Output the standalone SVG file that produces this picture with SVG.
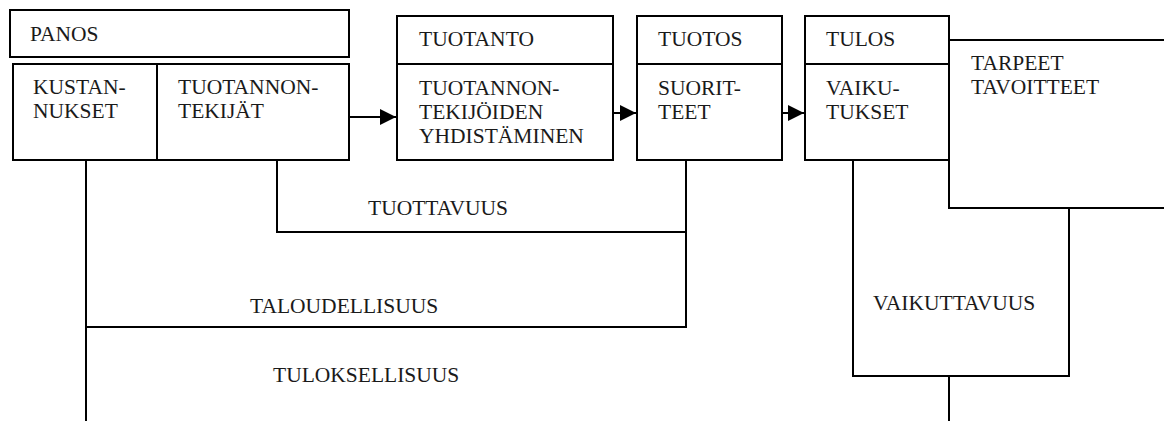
<svg xmlns="http://www.w3.org/2000/svg" width="1164" height="421" viewBox="0 0 1164 421">
<style>
.box{fill:#fff;stroke:#000;stroke-width:2}
.ln{fill:none;stroke:#000;stroke-width:2}
</style>
<defs>
<marker id="ah" markerUnits="userSpaceOnUse" markerWidth="17" markerHeight="16" refX="16" refY="8" orient="auto">
<path d="M0,0 L16,8 L0,16 Z" fill="#000"/>
</marker>
</defs>
<rect width="1164" height="421" fill="#fff"/>
<g id="connectors">
<path class="ln" d="M349,117 H396" marker-end="url(#ah)"/>
<path class="ln" d="M613,113 H636" marker-end="url(#ah)"/>
<path class="ln" d="M782,113 H804" marker-end="url(#ah)"/>
<path class="ln" d="M86,160 V421"/>
<path class="ln" d="M277,160 V232 H686"/>
<path class="ln" d="M686,160 V327 H86"/>
<path class="ln" d="M853,160 V376 H1069 V208"/>
<path class="ln" d="M949,376 V421"/>
</g>
<g id="panos">
<rect class="box" x="10" y="10" width="339" height="47"/>
<text x="30" y="41" font-family="Liberation Serif" font-size="21.5" fill="#1a1a1a">PANOS</text>
</g>
<g id="panos-detail">
<rect class="box" x="13" y="64" width="336" height="96"/>
<line class="ln" x1="157" y1="64" x2="157" y2="160"/>
<text x="33" y="94" font-family="Liberation Serif" font-size="21.5" fill="#1a1a1a">KUSTAN-</text>
<text x="33" y="118" font-family="Liberation Serif" font-size="21.5" fill="#1a1a1a">NUKSET</text>
<text x="178" y="94" font-family="Liberation Serif" font-size="21.5" fill="#1a1a1a">TUOTANNON-</text>
<text x="178" y="118" font-family="Liberation Serif" font-size="21.5" fill="#1a1a1a">TEKIJÄT</text>
</g>
<g id="tuotanto">
<rect class="box" x="397" y="16" width="216" height="144"/>
<line class="ln" x1="397" y1="64" x2="613" y2="64"/>
<text x="419" y="46" font-family="Liberation Serif" font-size="21.5" fill="#1a1a1a">TUOTANTO</text>
<text x="419" y="95" font-family="Liberation Serif" font-size="21.5" fill="#1a1a1a">TUOTANNON-</text>
<text x="419" y="119" font-family="Liberation Serif" font-size="21.5" fill="#1a1a1a">TEKIJÖIDEN</text>
<text x="419" y="143" font-family="Liberation Serif" font-size="21.5" fill="#1a1a1a">YHDISTÄMINEN</text>
</g>
<g id="tuotos">
<rect class="box" x="637" y="16" width="145" height="144"/>
<line class="ln" x1="637" y1="64" x2="782" y2="64"/>
<text x="658" y="46" font-family="Liberation Serif" font-size="21.5" fill="#1a1a1a">TUOTOS</text>
<text x="658" y="95" font-family="Liberation Serif" font-size="21.5" fill="#1a1a1a">SUORIT-</text>
<text x="658" y="119" font-family="Liberation Serif" font-size="21.5" fill="#1a1a1a">TEET</text>
</g>
<g id="tulos">
<rect class="box" x="805" y="16" width="144" height="144"/>
<line class="ln" x1="805" y1="64" x2="949" y2="64"/>
<text x="826" y="46" font-family="Liberation Serif" font-size="21.5" fill="#1a1a1a">TULOS</text>
<text x="826" y="95" font-family="Liberation Serif" font-size="21.5" fill="#1a1a1a">VAIKU-</text>
<text x="826" y="119" font-family="Liberation Serif" font-size="21.5" fill="#1a1a1a">TUKSET</text>
</g>
<g id="tarpeet">
<path class="ln" d="M1164,40 H949 V208 H1164"/>
<text x="971" y="70" font-family="Liberation Serif" font-size="21.5" fill="#1a1a1a">TARPEET</text>
<text x="971" y="94" font-family="Liberation Serif" font-size="21.5" fill="#1a1a1a">TAVOITTEET</text>
</g>
<g id="labels">
<text x="368" y="215" font-family="Liberation Serif" font-size="21.5" fill="#1a1a1a">TUOTTAVUUS</text>
<text x="250" y="313" font-family="Liberation Serif" font-size="21.5" fill="#1a1a1a">TALOUDELLISUUS</text>
<text x="273" y="382" font-family="Liberation Serif" font-size="21.5" fill="#1a1a1a">TULOKSELLISUUS</text>
<text x="873" y="310" font-family="Liberation Serif" font-size="21.5" fill="#1a1a1a">VAIKUTTAVUUS</text>
</g>
</svg>
